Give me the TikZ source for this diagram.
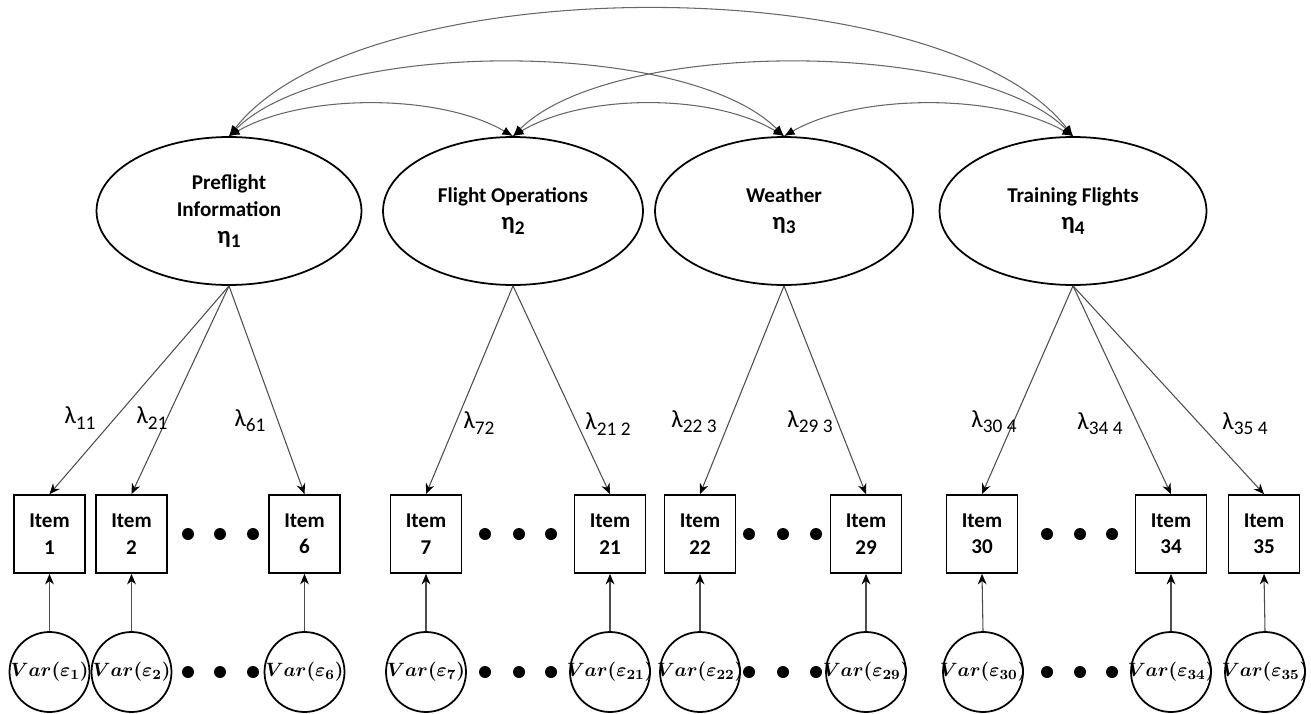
\documentclass[tikz,border=0pt]{standalone}
\usepackage{amsmath}
\usepackage{bm}
\usepackage{fontspec}
\setmainfont{Carlito}
\usetikzlibrary{shapes.geometric,arrows.meta}
\tikzset{
  latent/.style={ellipse,draw,line width=1pt,minimum width=5.3cm,minimum height=2.96cm,inner sep=0pt,align=center,font=\fontsize{12}{15.5}\selectfont\bfseries},
  item/.style={rectangle,draw,line width=1pt,minimum width=1.42cm,minimum height=1.56cm,inner sep=0pt,align=center,font=\fontsize{12}{15}\selectfont\bfseries},
  err/.style={circle,draw,line width=1pt,minimum size=1.6cm,inner sep=0pt},
  vartext/.style={inner sep=0pt,font=\fontsize{11}{13}\selectfont},
  dot/.style={circle,fill,inner sep=0pt,minimum size=0.24cm},
  load/.style={-{Stealth[length=6pt,width=5pt,color=black]},black!70,line width=0.6pt},
  cov/.style={{Latex[length=6pt,width=5pt,color=black]}-{Latex[length=6pt,width=5pt,color=black]},black!60,line width=0.6pt},
  lam/.style={font=\fontsize{14}{16}\selectfont}
}
\newcommand{\lamsub}[1]{λ\raisebox{-0.45ex}{\fontsize{11}{12}\selectfont #1}}
\newcommand{\etasub}[1]{{\fontsize{14}{15}\selectfont η}\raisebox{-0.4ex}{\fontsize{11}{12}\selectfont #1}}

\begin{document}
\begin{tikzpicture}[x=0.02cm,y=-0.02cm]

    % Rows of the model (pixel units, y pointing down)
    \def\ylat{211}    % latent factors
    \def\yitem{534}   % observed items
    \def\yerr{672}    % error variances

    \useasboundingbox (0,0) rectangle (1311,713);

    % -- Latent factors --
    \node[latent] (f1) at (229,\ylat) {Preflight\\Information\\\etasub{1}};
    \node[latent,minimum width=5.2cm] (f2) at (513,\ylat) {Flight Operations\\\etasub{2}};
    \node[latent,minimum width=5.16cm] (f3) at (784,\ylat) {Weather\\\etasub{3}};
    \node[latent,minimum width=5.34cm] (f4) at (1073,\ylat) {Training Flights\\\etasub{4}};

    % -- Items --
    \node[item] (i1)  at (49.5,\yitem)  {Item\\1};
    \node[item] (i2)  at (131.5,\yitem) {Item\\2};
    \node[item] (i6)  at (304.5,\yitem) {Item\\6};
    \node[item] (i7)  at (426,\yitem)   {Item\\7};
    \node[item] (i21) at (610,\yitem)   {Item\\21};
    \node[item] (i22) at (700,\yitem)   {Item\\22};
    \node[item] (i29) at (866,\yitem)   {Item\\29};
    \node[item] (i30) at (982,\yitem)   {Item\\30};
    \node[item] (i34) at (1171,\yitem)  {Item\\34};
    \node[item] (i35) at (1264,\yitem)  {Item\\35};

    % -- Error variances --
    \foreach \n/\x in {1/49.5,2/131.5,6/304.5,7/426,21/610,22/700,29/866,30/983,34/1171,35/1265} {
      \node[err] (e\n) at (\x,\yerr) {};
      \node[vartext] (v\n) at (e\n.center) {$\bm{Var(\varepsilon_{\n})}$};
    }

    % -- Dots for the omitted items --
    \foreach \x [count=\k] in {188,220,253,485,519,551,749,783,816,1047,1080,1112} {
      \node[dot] (du\k) at (\x,\yitem) {};
      \node[dot] (dl\k) at (\x,\yerr) {};
    }

    % -- Loadings --
    \draw[load] (f1.south) -- (i1.north);
    \draw[load] (f1.south) -- (i2.north);
    \draw[load] (f1.south) -- (i6.north);
    \draw[load] (f2.south) -- (i7.north);
    \draw[load] (f2.south) -- (i21.north);
    \draw[load] (f3.south) -- (i22.north);
    \draw[load] (f3.south) -- (i29.north);
    \draw[load] (f4.south) -- (i30.north);
    \draw[load] (f4.south) -- (i34.north);
    \draw[load] (f4.south) -- (i35.north);

    % -- Loading labels --
    \node[lam] (l11)  at (80,418)   {\lamsub{11}};
    \node[lam] (l21)  at (152,418)  {\lamsub{21}};
    \node[lam] (l61)  at (250,421)  {\lamsub{61}};
    \node[lam] (l72)  at (479,423)  {\lamsub{72}};
    \node[lam] (l212) at (608,424)  {\lamsub{21 2}};
    \node[lam] (l223) at (694,422)  {\lamsub{22 3}};
    \node[lam] (l293) at (810,422)  {\lamsub{29 3}};
    \node[lam] (l304) at (994,422)  {\lamsub{30 4}};
    \node[lam] (l344) at (1100,424) {\lamsub{34 4}};
    \node[lam] (l354) at (1245,424) {\lamsub{35 4}};

    % -- Error arrows --
    \foreach \n in {1,2,6,7,21,22,29,30,34,35}
      \draw[load] (e\n.north) -- (i\n.south);

    % -- Factor covariances --
    % neighbours
    \draw[cov] (f1.north) .. controls +(74,-43) and +(-74,-43) .. (f2.north);
    \draw[cov] (f2.north) .. controls +(71,-43) and +(-71,-43) .. (f3.north);
    \draw[cov] (f3.north) .. controls +(75,-43) and +(-75,-43) .. (f4.north);
    % one apart
    \draw[cov] (f1.north) .. controls +(98,-98) and +(-98,-98) .. (f3.north);
    \draw[cov] (f2.north) .. controls +(98,-98) and +(-98,-98) .. (f4.north);
    % outer
    \draw[cov] (f1.north) .. controls +(132,-169) and +(-132,-169) .. (f4.north);

\end{tikzpicture}
\end{document}
